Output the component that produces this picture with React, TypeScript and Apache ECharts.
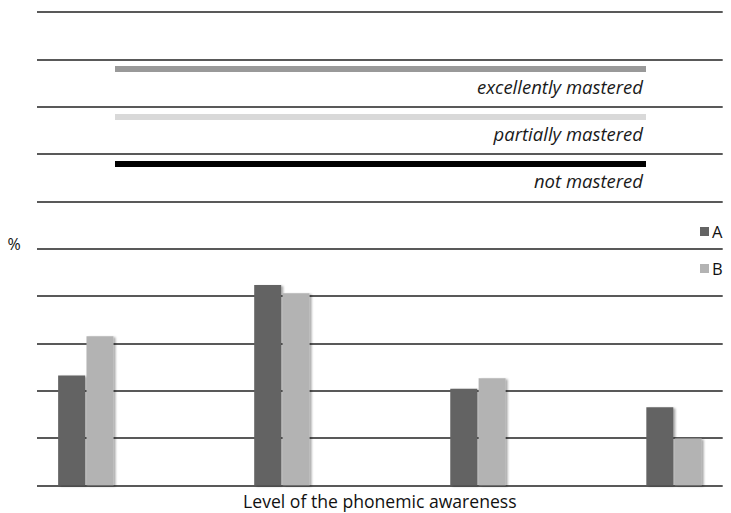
import React, { useEffect, useRef } from "react";
import * as echarts from "echarts";

const categories = ["1", "2", "3", "4"];
const seriesA = [23.2, 42.3, 20.4, 16.5];
const seriesB = [31.5, 40.6, 22.6, 9.9];
const masteryLevels = ["excellently mastered", "partially mastered", "not mastered"];
const masteryColors = ["#999999", "#d9d9d9", "#000000"];

export default function App() {
  const ref = useRef<HTMLDivElement>(null);
  useEffect(() => {
    if (!ref.current) return;
    const chart = echarts.init(ref.current, null, { renderer: "svg" });
    const top = 12;
    const height = 473.3;
    const font = "'Open Sans', sans-serif";
    const shadow = {
      shadowColor: "rgba(0,0,0,0.35)",
      shadowBlur: 2,
      shadowOffsetX: 2,
      shadowOffsetY: 1,
    };
    const lineYs = [69, 117, 164];
    const labelYs = [86, 133, 180];
    const graphic: any[] = [];
    masteryLevels.forEach((lvl, i) => {
      graphic.push({
        type: "rect",
        left: 115,
        top: lineYs[i] - 3,
        shape: { width: 531, height: 6 },
        style: { fill: masteryColors[i] },
        z: 10,
      });
      graphic.push({
        type: "text",
        x: 643,
        y: labelYs[i],
        style: {
          text: lvl,
          fill: "#1a1a1a",
          font: `italic 18.5px ${font}`,
          textAlign: "right",
          textVerticalAlign: "middle",
        },
        z: 10,
      });
    });
    graphic.push({
      type: "text",
      x: 14,
      y: 244,
      style: {
        text: "%",
        fill: "#111",
        font: `16px ${font}`,
        textAlign: "center",
        textVerticalAlign: "middle",
      },
    });
    chart.setOption({
      animation: false,
      backgroundColor: "#ffffff",
      textStyle: { fontFamily: font },
      graphic,
      legend: {
        orient: "vertical",
        left: 700,
        top: 223,
        padding: 0,
        itemWidth: 9,
        itemHeight: 9,
        itemGap: 20,
        icon: "rect",
        textStyle: { fontSize: 16.5, color: "#111", fontFamily: font, padding: [0, 0, 0, -2] },
        data: ["A", "B"],
      },
      grid: [
        { left: 37, right: 8.3, top, height, outerBoundsMode: "none" },
        { left: 85.8, right: 57, top, height, outerBoundsMode: "none" },
      ],
      xAxis: [
        {
          type: "value",
          gridIndex: 0,
          min: 0,
          max: 1,
          name: "Level of the phonemic awareness",
          nameLocation: "middle",
          nameGap: 7,
          nameTextStyle: { fontSize: 17.6, color: "#111", fontFamily: font, verticalAlign: "top" },
          axisLine: { show: false },
          axisTick: { show: false },
          axisLabel: { show: false },
          splitLine: { show: false },
        },
        {
          type: "category",
          gridIndex: 1,
          data: categories,
          boundaryGap: false,
          show: false,
        },
      ],
      yAxis: [
        {
          type: "value",
          gridIndex: 0,
          min: 0,
          max: 100,
          interval: 10,
          axisLine: { show: false },
          axisTick: { show: false },
          axisLabel: { show: false },
          splitLine: { show: true, lineStyle: { color: "#222", width: 1.5 } },
        },
        {
          type: "value",
          gridIndex: 1,
          min: 0,
          max: 100,
          interval: 10,
          show: false,
          splitLine: { show: false },
        },
      ],
      series: [
        {
          name: "A",
          type: "bar",
          xAxisIndex: 1,
          yAxisIndex: 1,
          data: seriesA,
          barWidth: 27,
          barGap: "5%",
          itemStyle: { color: "#646464", ...shadow },
          z: 5,
        },
        {
          name: "B",
          type: "bar",
          xAxisIndex: 1,
          yAxisIndex: 1,
          data: seriesB,
          barWidth: 27,
          barGap: "5%",
          itemStyle: { color: "#b3b3b3", ...shadow },
          z: 5,
        },
      ],
    });
    return () => chart.dispose();
  }, []);
  return <div ref={ref} style={{ width: 731, height: 513, position: "absolute", left: 0, top: 0 }} />;
}
